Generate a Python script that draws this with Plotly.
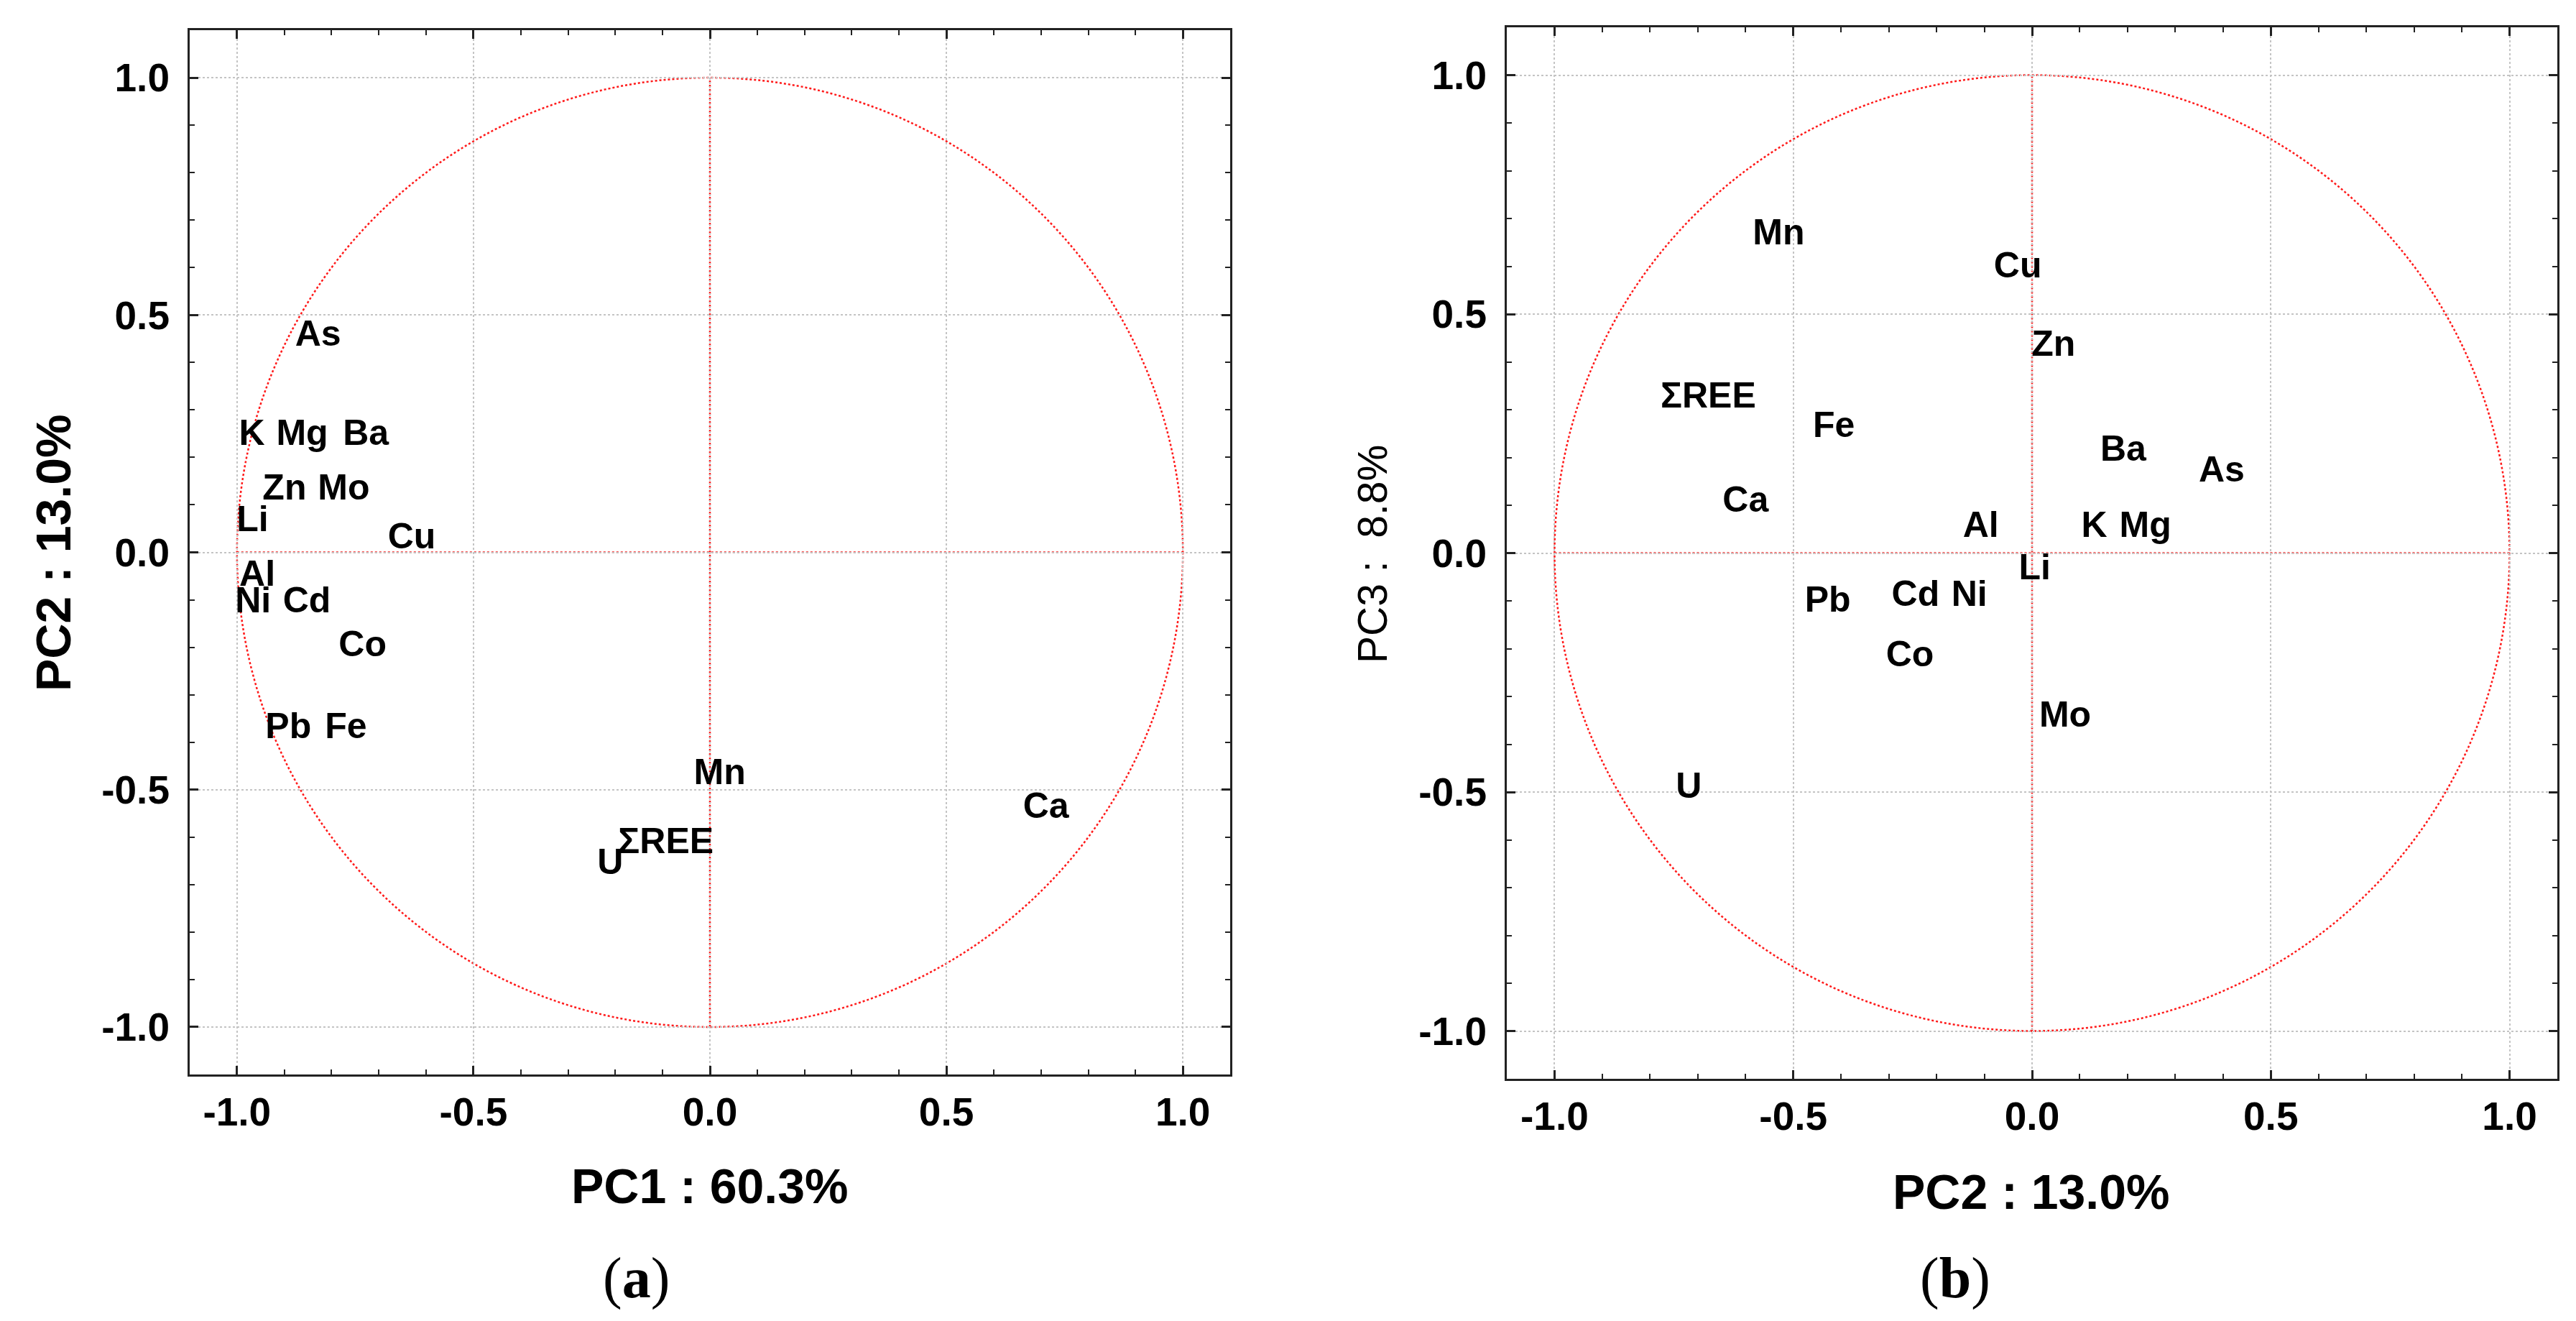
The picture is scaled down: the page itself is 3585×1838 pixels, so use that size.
import plotly.graph_objects as go

# element labels, same order in both panels
elements = ["As", "K", "Mg", "Ba", "Zn", "Mo", "Li", "Cu", "Al",
            "Ni", "Cd", "Co", "Pb", "Fe", "Mn", "Ca", "ΣREE", "U"]

# panel (a): PC1 vs PC2 loadings (label anchor points)
a_pc1 = [-0.877, -0.996, -0.917, -0.776, -0.946, -0.829, -1.001, -0.681, -0.995,
         -1.004, -0.903, -0.785, -0.940, -0.814, -0.034, 0.662, -0.194, -0.238]
a_pc2 = [0.454, 0.246, 0.246, 0.246, 0.130, 0.130, 0.064, 0.027, -0.052,
         -0.107, -0.107, -0.200, -0.372, -0.372, -0.469, -0.540, -0.614, -0.659]

# panel (b): PC2 vs PC3 loadings (label anchor points)
b_pc2 = [0.349, 0.103, 0.183, 0.143, -0.001, 0.015, -0.028, -0.080, -0.145,
         -0.169, -0.294, -0.306, -0.476, -0.459, -0.585, -0.648, -0.778, -0.746]
b_pc3 = [0.168, 0.053, 0.053, 0.212, 0.432, -0.345, -0.036, 0.595, 0.053,
         -0.092, -0.092, -0.218, -0.103, 0.262, 0.664, 0.106, 0.324, -0.493]

tick_vals = [-1.0, -0.5, 0.0, 0.5, 1.0]
tick_text = ["-1.0", "-0.5", "0.0", "0.5", "1.0"]
axis_range = [-1.1, 1.1]
circle_radius = 1.0

W, H = 3585, 1838
SANS = "Liberation Sans, Arial, sans-serif"
SERIF = "Liberation Serif, Times New Roman, serif"
RED = "#ff1a1a"


def px(x):
    return x / W


def py(y):
    return 1 - y / H


fig = go.Figure()

fig.add_trace(go.Scatter(
    x=a_pc1, y=a_pc2, text=elements, mode="text",
    textposition="middle right",
    textfont=dict(family=SANS, size=50, color="black", weight="bold"),
    xaxis="x", yaxis="y", showlegend=False, hoverinfo="text",
))
fig.add_trace(go.Scatter(
    x=b_pc2, y=b_pc3, text=elements, mode="text",
    textposition="middle right",
    textfont=dict(family=SANS, size=50, color="black", weight="bold"),
    xaxis="x2", yaxis="y2", showlegend=False, hoverinfo="text",
))

axis_style = dict(
    range=axis_range,
    tickmode="array",
    tickvals=tick_vals,
    ticktext=tick_text,
    ticks="inside",
    ticklen=12,
    tickwidth=3,
    tickcolor="#222222",
    minor=dict(dtick=0.1, ticks="inside", ticklen=7, tickwidth=2,
               tickcolor="#222222", showgrid=False),
    showline=True,
    linewidth=3,
    linecolor="#222222",
    mirror="allticks",
    showgrid=True,
    gridcolor="#c4c4c4",
    griddash="dot",
    gridwidth=2,
    zeroline=False,
    tickfont=dict(family=SANS, size=55, color="black", weight="bold"),
)

fig.update_layout(
    width=W,
    height=H,
    margin=dict(l=0, r=0, t=0, b=0),
    paper_bgcolor="white",
    plot_bgcolor="white",
    xaxis=dict(axis_style, domain=[px(256), px(1704)], anchor="y",
               ticklabelstandoff=2),
    yaxis=dict(axis_style, domain=[py(1487), py(34)], anchor="x",
               ticklabelstandoff=14),
    xaxis2=dict(axis_style, domain=[px(2089), px(3551)], anchor="y2",
                ticklabelstandoff=2),
    yaxis2=dict(axis_style, domain=[py(1493), py(30)], anchor="x2",
                ticklabelstandoff=14),
)

# correlation circle and cross lines
for xr, yr in [("x", "y"), ("x2", "y2")]:
    line = dict(color=RED, width=2.5, dash="dot")
    fig.add_shape(type="circle", xref=xr, yref=yr,
                  x0=-circle_radius, y0=-circle_radius,
                  x1=circle_radius, y1=circle_radius,
                  line=line, layer="below")
    fig.add_shape(type="line", xref=xr, yref=yr,
                  x0=0, y0=-circle_radius, x1=0, y1=circle_radius,
                  line=line, layer="below")
    fig.add_shape(type="line", xref=xr, yref=yr,
                  x0=-circle_radius, y0=0, x1=circle_radius, y1=0,
                  line=line, layer="below")

# axis titles
titles = [
    ("PC1 : 60.3%", 980, 1642, 0, 68, "bold"),
    ("PC2 : 13.0%", 66, 761, -90, 68, "bold"),
    ("PC2 : 13.0%", 2819, 1650, 0, 68, "bold"),
    ("PC3 :  8.8%", 1902, 763, -90, 57, "normal"),
]
for text, x, y, ang, size, weight in titles:
    fig.add_annotation(
        text=text.replace("  ", "&nbsp; "), xref="paper", yref="paper",
        x=px(x), y=py(y), xanchor="center", yanchor="middle",
        textangle=ang, showarrow=False,
        font=dict(family=SANS, size=size, color="black", weight=weight),
    )

# panel captions
for text, x in [("(<b>a</b>)", 877), ("(<b>b</b>)", 2713)]:
    fig.add_annotation(
        text=text, xref="paper", yref="paper",
        x=px(x), y=py(1770), xanchor="center", yanchor="middle",
        showarrow=False,
        font=dict(family=SERIF, size=80, color="black"),
    )

fig.write_html("out.html")
